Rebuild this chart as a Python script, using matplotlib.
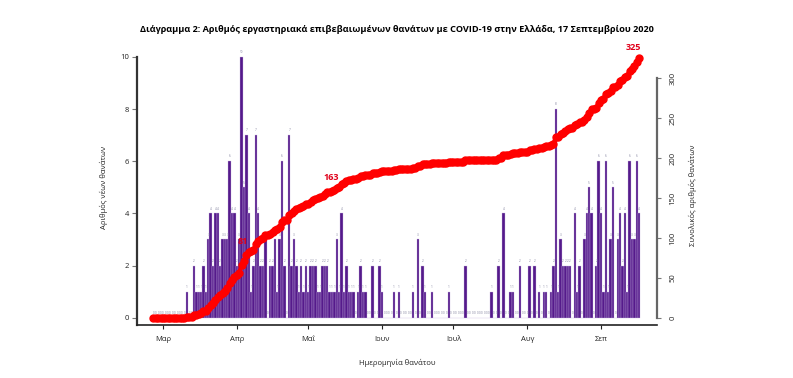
import matplotlib
matplotlib.use('Agg')
import matplotlib.pyplot as plt
import matplotlib.dates as mdates
import numpy as np
import pandas as pd

plt.rcParams['font.family'] = ['Open Sans', 'DejaVu Sans']

start_date = '2020-02-26'

# new deaths per day (date of death), Feb 26 .. Sep 17
deaths_feb = [0, 0, 0, 0]
deaths_mar = [0, 0, 0, 0, 0, 0, 0, 0, 0, 0, 1, 0, 0, 2, 1, 1, 1, 2, 1, 3,
              4, 2, 4, 4, 2, 3, 3, 3, 6, 4, 4]
deaths_apr = [2, 3, 10, 5, 7, 4, 1, 2, 7, 4, 2, 2, 3, 0, 2, 2, 3, 1, 3, 6,
              2, 0, 7, 2, 3, 2, 1, 2, 1, 2]
deaths_may = [1, 2, 2, 2, 1, 1, 2, 2, 2, 1, 1, 1, 3, 1, 4, 1, 2, 1, 1, 1,
              0, 1, 2, 1, 1, 0, 0, 2, 0, 0, 2]
deaths_jun = [1, 0, 0, 0, 0, 1, 0, 1, 0, 0, 0, 0, 0, 1, 0, 3, 0, 2, 1, 0,
              0, 1, 0, 0, 0, 0, 0, 0, 1, 0]
deaths_jul = [0, 0, 0, 0, 0, 2, 0, 0, 0, 0, 0, 0, 0, 0, 0, 0, 1, 0, 0, 2,
              0, 4, 0, 0, 1, 1, 0, 0, 2, 0, 0]
deaths_aug = [0, 2, 0, 2, 0, 1, 0, 1, 1, 0, 1, 2, 8, 1, 3, 2, 2, 2, 2, 0,
              4, 1, 2, 0, 3, 4, 5, 4, 0, 2, 6]
deaths_sep = [4, 1, 6, 1, 3, 5, 0, 3, 4, 2, 4, 1, 6, 3, 3, 6, 4]

month_ticks = ['2020-03-01', '2020-04-01', '2020-05-01', '2020-06-01',
               '2020-07-01', '2020-08-01', '2020-09-01']
month_labels = ['Μαρ', 'Απρ', 'Μαΐ', 'Ιουν', 'Ιουλ', 'Αυγ', 'Σεπ']
marked_totals = [81, 163, 325]

daily = np.array(deaths_feb + deaths_mar + deaths_apr + deaths_may +
                 deaths_jun + deaths_jul + deaths_aug + deaths_sep)
dates = pd.date_range(start_date, periods=len(daily), freq='D')
cumulative = np.cumsum(daily)

fig = plt.figure(figsize=(7.93, 3.78), dpi=100)
ax = fig.add_axes([137 / 793, 53 / 378, 520 / 793, 280 / 378])
ax2 = ax.twinx()

# bars for new deaths
ax.bar(dates, daily, width=1.0, color='#551A8B', edgecolor='#c9b8e2',
       linewidth=0.25, zorder=2)
for d, v in zip(dates, daily):
    ax.annotate(str(v), (d, v), xytext=(0, 2), textcoords='offset points',
                ha='center', va='bottom', fontsize=2.2, color='#7d7d9a')

# cumulative line
ax2.plot(dates, cumulative, color='red', lw=3, marker='o', ms=5, zorder=3)
for total in marked_totals:
    i = int(np.argmax(cumulative >= total))
    ax2.annotate(str(total), (dates[i], cumulative[i]), xytext=(-4, 7.5),
                 textcoords='offset points', ha='center', va='center',
                 fontsize=6.5, fontweight='bold', color='#e0001a', zorder=6)

x0 = mdates.date2num(dates[0])
ax.set_xlim(x0 - 6.93, x0 + 211.5)
ax.set_ylim(-0.28, 10.46)
ax2.set_ylim(-9.15, 341.7)

for s in ['top', 'right']:
    ax.spines[s].set_visible(False)
ax.spines['left'].set_bounds(-0.28, 10)
ax.spines['left'].set_color('#333333')
ax.spines['left'].set_linewidth(1.6)
ax.spines['bottom'].set_color('#222222')
ax.spines['bottom'].set_linewidth(1.2)
for s in ['top', 'left', 'bottom']:
    ax2.spines[s].set_visible(False)
ax2.spines['right'].set_bounds(0, 300)
ax2.spines['right'].set_color('#666666')
ax2.spines['right'].set_linewidth(1.6)

ax.set_yticks(range(0, 11, 2))
ax.tick_params(axis='y', length=3.5, width=0.8, color='#777777', pad=2,
               labelsize=5.5, labelcolor='#222222')
ax.set_xticks(pd.to_datetime(month_ticks))
ax.set_xticklabels(month_labels)
ax.tick_params(axis='x', length=3, width=0.8, color='#222222', pad=5,
               labelsize=5.5, labelcolor='#222222')

ax2.set_yticks(range(0, 301, 50))
ax2.tick_params(axis='y', length=3, width=0.8, color='#777777', pad=6,
                labelsize=5.5, labelcolor='#222222', labelrotation=90)
for lab in ax2.get_yticklabels():
    lab.set_va('center')

fig.text(104 / 793, 1 - 187 / 378, 'Αριθμός νέων θανάτων', rotation=90,
         ha='center', va='center', fontsize=5.5, color='#222222')
fig.text(693 / 793, 1 - 195 / 378, 'Συνολικός αριθμός θανάτων', rotation=90,
         ha='center', va='center', fontsize=5.5, color='#222222')
fig.text(397 / 793, 1 - 363 / 378, 'Ημερομηνία θανάτου',
         ha='center', va='center', fontsize=5.5, color='#222222')
fig.text(397 / 793, 1 - 30 / 378,
         'Διάγραμμα 2: Αριθμός εργαστηριακά επιβεβαιωμένων θανάτων με COVID-19 '
         'στην Ελλάδα, 17 Σεπτεμβρίου 2020',
         ha='center', va='center', fontsize=6.6, fontweight='bold', color='black')

fig.savefig('out.png', dpi=100)
